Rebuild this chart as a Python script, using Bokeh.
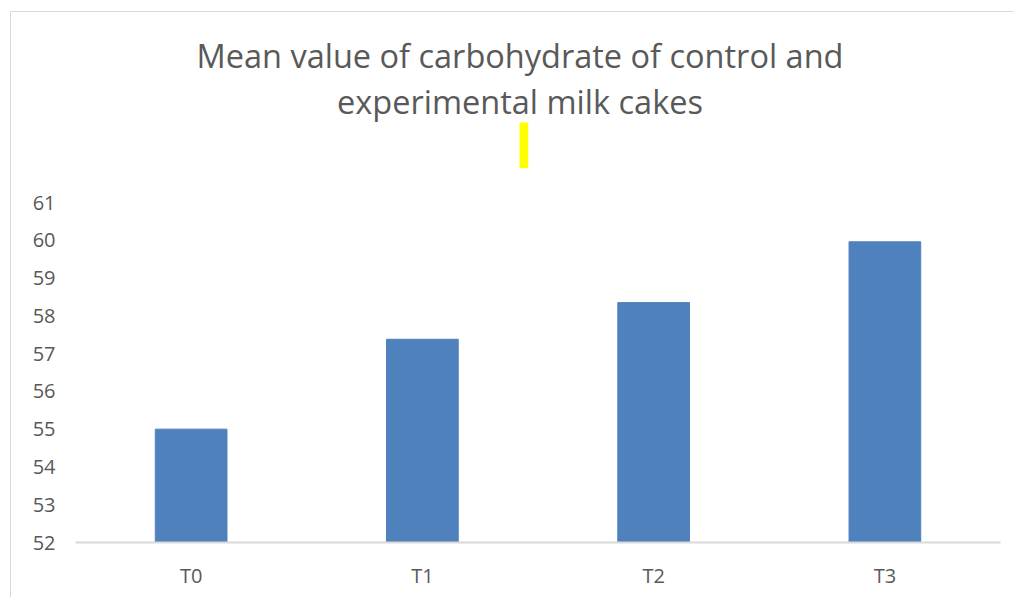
from bokeh.plotting import figure
from bokeh.models import Range1d, FixedTicker, BoxAnnotation, Label
from bokeh.embed import file_html
from bokeh.resources import INLINE

categories = ["T0", "T1", "T2", "T3"]
carbohydrate = [55.0, 57.38, 58.35, 59.96]
y_ticks = [52, 53, 54, 55, 56, 57, 58, 59, 60, 61]
title_line1 = "Mean value of carbohydrate of control and"
title_line2 = "experimental milk cakes"

p = figure(x_range=categories, y_range=Range1d(52, 66.03), width=1004, height=586,
           output_backend="svg", toolbar_location=None,
           min_border_left=64, min_border_right=15, min_border_bottom=56, min_border_top=0)
p.title = None
p.margin = (11, 0, 0, 10)
p.styles = {"border-left": "1px solid #d9d9d9", "border-top": "1px solid #d9d9d9"}

p.vbar(x=categories, top=carbohydrate, bottom=52, width=0.31,
       fill_color="#4F81BD", line_color="#4F81BD")

for txt, yb in ((title_line1, 487), (title_line2, 441)):
    p.add_layout(Label(x=444.5, y=yb, x_units="screen", y_units="screen", text=txt,
                       text_align="center", text_baseline="alphabetic",
                       text_font="Open Sans", text_font_size="32.5px",
                       text_color="#595959"))

p.xgrid.visible = False
p.ygrid.visible = False
p.outline_line_color = None

p.yaxis.ticker = FixedTicker(ticks=y_ticks)
p.yaxis.axis_line_color = None
p.yaxis.major_tick_line_color = None
p.yaxis.minor_tick_line_color = None
p.yaxis.major_tick_out = 0
p.yaxis.major_tick_in = 0
p.yaxis.major_label_standoff = 20
p.yaxis.major_label_text_font = "Open Sans"
p.yaxis.major_label_text_font_size = "20px"
p.yaxis.major_label_text_color = "#595959"

p.xaxis.axis_line_color = "#d9d9d9"
p.xaxis.axis_line_width = 2
p.xaxis.major_tick_line_color = None
p.xaxis.minor_tick_line_color = None
p.xaxis.major_tick_out = 0
p.xaxis.major_tick_in = 0
p.xaxis.major_label_standoff = 19
p.xaxis.major_label_text_font = "Open Sans"
p.xaxis.major_label_text_font_size = "20px"
p.xaxis.major_label_text_color = "#595959"

mark = BoxAnnotation(left=444, right=452.7, top=420, bottom=374.3,
                     left_units="screen", right_units="screen",
                     top_units="screen", bottom_units="screen",
                     fill_color="#ffff00", fill_alpha=1.0, line_color=None)
p.add_layout(mark)

open("out.html", "w").write(file_html(p, INLINE))
